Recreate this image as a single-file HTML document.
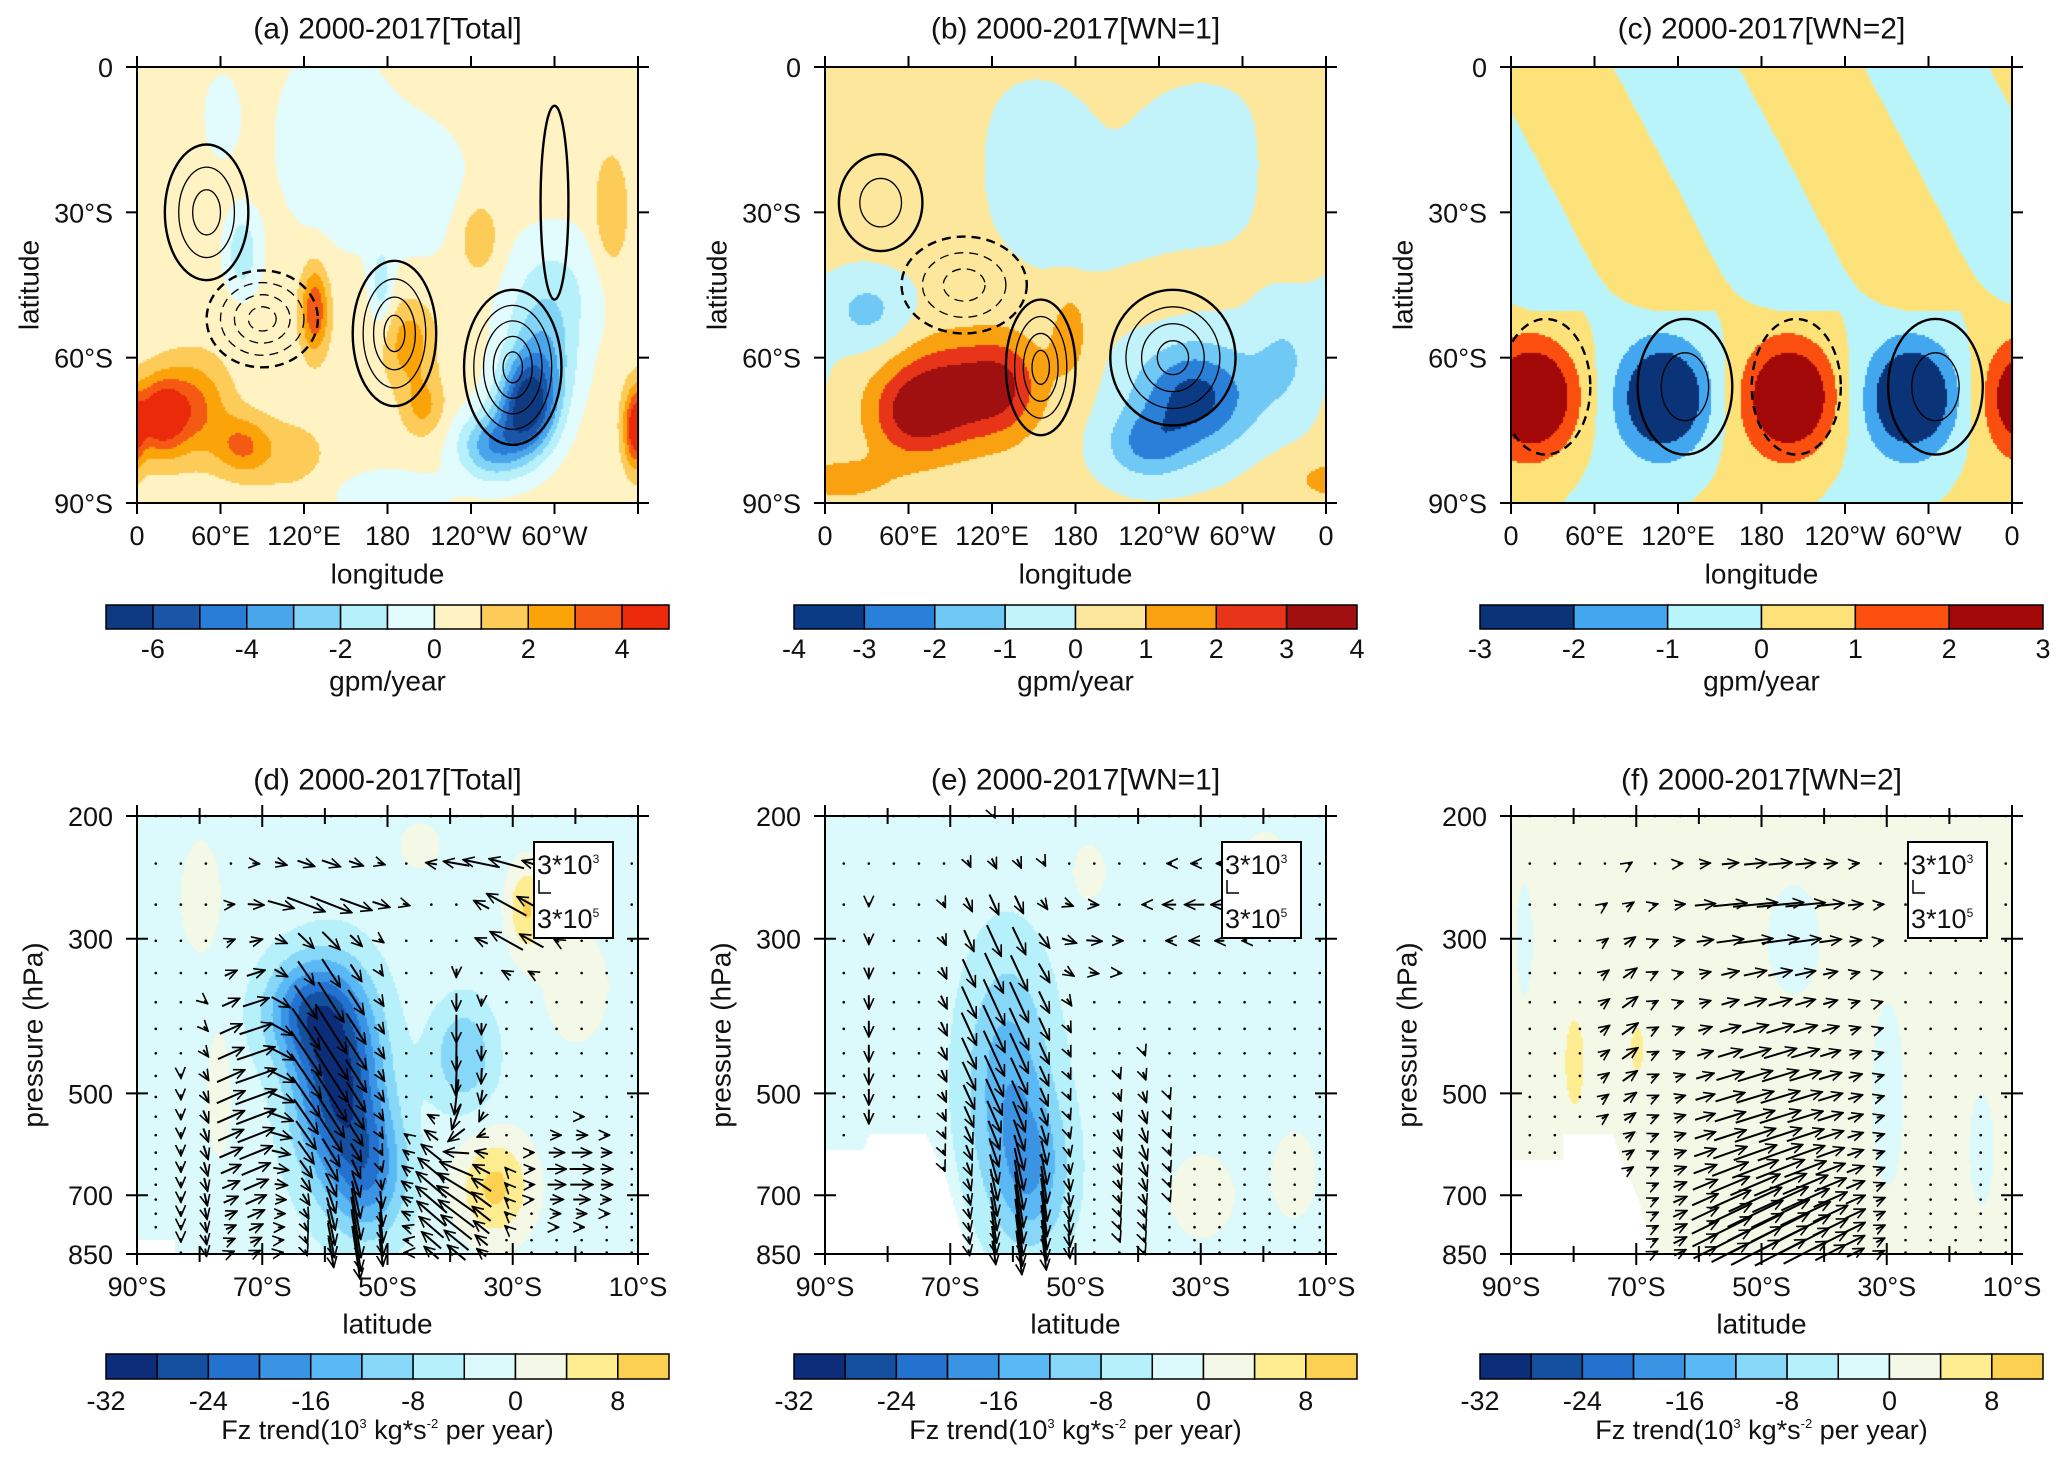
<!DOCTYPE html>
<html><head><meta charset="utf-8">
<style>
html,body{margin:0;padding:0;background:#fff;}
#wrap{position:relative;width:2067px;height:1464px;overflow:hidden;}
canvas,svg{position:absolute;left:0;top:0;}
text{font-family:"Liberation Sans",sans-serif;fill:#111;}
</style></head>
<body>
<div id="wrap">
<canvas id="cv" width="2067" height="1464"></canvas>
<svg id="sv" width="2067" height="1464" xmlns="http://www.w3.org/2000/svg"></svg>
</div>
<script>
// ---------- data ----------
const aBlobLon=[140,200,75,60,175,127,195,205,15,40,75,280,255,290,300,357,340,245,180,110];
const aBlobLat=[-15,-25,-38,-10,-45,-50,-57,-70,-72,-70,-78,-70,-78,-60,-45,-75,-30,-35,-88,-80];
const aBlobAmp=[-1.2,-1.0,-2.2,-0.8,-1.8,3.6,2.2,1.8,4.2,2.8,2.5,-6.2,-4,-3,-1.5,3.5,1.6,1.5,-1.2,1.0];
const aBlobWx=[40,40,12,15,8,10,18,15,18,25,20,20,25,25,35,8,12,15,40,30];
const aBlobWy=[20,15,8,10,8,9,9,6,8,10,6,9,7,12,12,8,12,8,5,8];
const aBase=0.4;

const bBlobLon=[50,150,200,270,340,225,95,60,265,230,30,330,175,10,130];
const bBlobLat=[-20,-20,-35,-20,-20,-45,-67,-72,-68,-78,-50,-60,-55,-85,-65];
const bBlobAmp=[0.8,-0.8,-0.8,-0.7,0.6,0.6,3.3,2.2,-3.6,-2,-1.5,-1.2,1.2,1.2,1.5];
const bBlobWx=[50,40,40,50,25,40,45,30,42,30,30,25,15,40,25];
const bBlobWy=[15,15,10,15,15,6,11,9,11,7,8,12,10,5,10];
const bBase=0.2;

const cBlobLon=[15,200,110,288,15,200,110,288];
const cBlobLat=[-68,-68,-68,-68,-68,-68,-68,-68];
const cBlobAmp=[3.3,3.3,-3.3,-3.3,0.9,0.9,-0.9,-0.9];
const cBlobWx=[30,30,30,30,45,45,45,45];
const cBlobWy=[10.5,10.5,10.5,10.5,18,18,18,18];
const cWaveAmp=0.6, cWaveK=2, cWaveTilt=1.85, cWaveCenter=28;

const dBlobLat=[-58,-63,-53,-38,-33,-28,-77,-80,-20,-45];
const dBlobP=[480,380,650,440,680,270,500,260,350,220];
const dBlobAmp=[-26,-16,-14,-10,11,10,5,3,3,3];
const dBlobWl=[7,7,6,5,6,3,2,5,8,5];
const dBlobWt=[0.22,0.12,0.15,0.12,0.12,0.1,0.15,0.2,0.2,0.08];
const eBlobLat=[-61,-57,-30,-15,-48,-20];
const eBlobP=[470,650,700,650,240,220];
const eBlobAmp=[-12,-11,3,3,3,3];
const eBlobWl=[7,6,8,5,4,4];
const eBlobWt=[0.28,0.18,0.15,0.15,0.1,0.05];
const fBlobLat=[-80,-70,-45,-30,-15,-88];
const fBlobP=[450,430,300,500,600,300];
const fBlobAmp=[5,5,-4,-4,-3,-3];
const fBlobWl=[1.5,1,5,3,3,2];
const fBlobWt=[0.1,0.05,0.15,0.25,0.2,0.2];
const dBase=-2, eBase=-2, fBase=2;

const dVecLat=[-60,-55,-72,-60,-30,-35,-40,-38,-20,-80];
const dVecP=[450,800,500,260,280,230,700,480,650,600];
const dVecU=[35,8,40,40,-45,-35,-40,0,25,0];
const dVecV=[55,60,-20,10,-25,-6,-35,45,0,18];
const dVecWl=[7,5,5,10,5,8,6,3,6,3];
const dVecWt=[0.25,0.1,0.3,0.08,0.1,0.05,0.15,0.2,0.1,0.3];
const eVecLat=[-62,-58,-82,-48,-30,-40];
const eVecP=[400,760,450,300,270,600];
const eVecU=[22,6,0,16,-20,6];
const eVecV=[48,55,22,0,0,16];
const eVecWl=[8,6,2,6,8,5];
const eVecWt=[0.3,0.15,0.3,0.1,0.1,0.2];
const fVecLat=[-48,-48,-48,-72];
const fVecP=[550,800,270,400];
const fVecU=[40,34,42,16];
const fVecV=[-12,-22,-3,-12];
const fVecWl=[13,12,12,4];
const fVecWt=[0.35,0.15,0.12,0.3];

const dMaskLat=[-90,-84,-84,-90]; const dMaskP=[810,810,850,850];
const eMaskLat=[-90,-84,-83,-74,-71,-67,-90]; const eMaskP=[600,600,570,570,650,850,850];
const fMaskLat=[-90,-82,-82,-74,-70,-67,-90]; const fMaskP=[620,620,570,570,700,850,850];

const colA=['#0d3a80','#1a55a8','#2a7dd6','#4aa6ea','#82d4f7','#b5f0fb','#e2fbfc','#fff3c4','#fdcc58','#fba40a','#f55a14','#ea2a0a'];
const levA=[-7,-6,-5,-4,-3,-2,-1,0,1,2,3,4,5];
const colB=['#0b3b84','#2a80d8','#70c8f5','#c2f3fa','#fde79c','#f9a111','#e8351a','#a01010'];
const levB=[-4,-3,-2,-1,0,1,2,3,4];
const colC=['#0b3378','#43a7f0','#baf4fb','#fde27a','#fa4f0e','#a30808'];
const levC=[-3,-2,-1,0,1,2,3];
const colD=['#0c2e7a','#15509f','#2372cf','#3a94e3','#5ab8f5','#87d8f8','#b6f1fb','#dcf9fb','#f4f8e6','#fdec90','#fcd050'];
const levD=[-32,-28,-24,-20,-16,-12,-8,-4,0,4,8,12];

const tickA=[-6,-4,-2,0,2,4];
const tickB=[-4,-3,-2,-1,0,1,2,3,4];
const tickC=[-3,-2,-1,0,1,2,3];
const tickD=[-32,-24,-16,-8,0,8];
const lonTicksA=['0','60°E','120°E','180','120°W','60°W',''];
const lonTicksBC=['0','60°E','120°E','180','120°W','60°W','0'];
const latTicks=['0','30°S','60°S','90°S'];
const pTicks=[200,300,500,700,850];
const latTicksBottom=['90°S','70°S','50°S','30°S','10°S'];

const aConLon=[50,185,270,90,300];
const aConLat=[-30,-55,-62,-52,-28];
const aConRx=[30,30,35,40,10];
const aConRy=[14,15,16,10,20];
const aConN=[3,4,5,4,1];
const aConDash=[0,0,0,1,0];
const bConLon=[250,155,40,100];
const bConLat=[-60,-62,-28,-45];
const bConRx=[45,25,30,45];
const bConRy=[14,14,10,10];
const bConN=[4,4,2,3];
const bConDash=[0,0,0,1];
const cConLon=[125,305,25,205];
const cConLat=[-66,-66,-66,-66];
const cConRx=[34,34,32,32];
const cConRy=[14,14,14,14];
const cConN=[2,2,1,1];
const cConDash=[0,0,1,1];

// ---------- layout ----------
const colX=[137,825,1511];
const PW=501, TOP0=67, TH=436, TOP1=816, BH=438;
const cbX=[106,794,1480], CBW=563;
const NS='http://www.w3.org/2000/svg';
const sv=document.getElementById('sv');
const cv=document.getElementById('cv'), ctx=cv.getContext('2d');

function el(tag,attrs,parent){const e=document.createElementNS(NS,tag);for(const k in attrs)e.setAttribute(k,attrs[k]);(parent||sv).appendChild(e);return e;}
function txt(x,y,s,size,anchor,parent){const t=el('text',{x:x,y:y,'font-size':size,'text-anchor':anchor||'middle','dominant-baseline':'central'},parent);t.textContent=s;return t;}
function colorFor(v,lev,col){if(v<lev[0])return col[0];for(let i=0;i<col.length;i++){if(v<lev[i+1])return col[i];}return col[col.length-1];}

function topField(lon,lat,L,La,A,Wx,Wy,base){let v=base;for(let i=0;i<L.length;i++){let dl=lon-L[i];dl=((dl+540)%360)-180;const d=(dl/Wx[i])**2+((lat-La[i])/Wy[i])**2;v+=A[i]*Math.exp(-d);}return v;}
function cWave(lon,lat){const sh=lat>-50?cWaveTilt*(-lat):cWaveTilt*50+0.5*(-lat-50);return cWaveAmp*Math.cos(cWaveK*(lon-sh-cWaveCenter)*Math.PI/180);}

const topPanels=[
 {L:aBlobLon,La:aBlobLat,A:aBlobAmp,Wx:aBlobWx,Wy:aBlobWy,base:aBase,col:colA,lev:levA,wave:false},
 {L:bBlobLon,La:bBlobLat,A:bBlobAmp,Wx:bBlobWx,Wy:bBlobWy,base:bBase,col:colB,lev:levB,wave:false},
 {L:cBlobLon,La:cBlobLat,A:cBlobAmp,Wx:cBlobWx,Wy:cBlobWy,base:0,col:colC,lev:levC,wave:true}];
const step=2;
topPanels.forEach((P,k)=>{
 const x0=colX[k];
 for(let py=0;py<TH;py+=step){const lat=-py/TH*90;
  for(let px=0;px<PW;px+=step){const lon=px/PW*360;
   let v=topField(lon,lat,P.L,P.La,P.A,P.Wx,P.Wy,P.base);
   if(P.wave){const f=lat>-50?1:0.35;v=v+cWave(lon,lat)*f;}
   ctx.fillStyle=colorFor(v,P.lev,P.col);ctx.fillRect(x0+px,TOP0+py,step,step);}}
});

const LP0=Math.log(200),LP1=Math.log(850);
function pT(p){return (Math.log(p)-LP0)/(LP1-LP0);}
function latX(k,lat){return colX[k]+(lat+90)/80*PW;}
function pY(p){return TOP1+pT(p)*BH;}
function botField(lat,p,B){let v=B.base;const t=pT(p);for(let i=0;i<B.La.length;i++){const d=((lat-B.La[i])/B.Wl[i])**2+((t-pT(B.P[i]))/B.Wt[i])**2;v+=B.A[i]*Math.exp(-d);}return v;}
function inPoly(x,y,xs,ys){let c=false;for(let i=0,j=xs.length-1;i<xs.length;j=i++){if(((ys[i]>y)!=(ys[j]>y))&&(x<(xs[j]-xs[i])*(y-ys[i])/(ys[j]-ys[i])+xs[i]))c=!c;}return c;}
const botPanels=[
 {La:dBlobLat,P:dBlobP,A:dBlobAmp,Wl:dBlobWl,Wt:dBlobWt,base:dBase,mL:dMaskLat,mP:dMaskP,vL:dVecLat,vP:dVecP,vU:dVecU,vV:dVecV,vWl:dVecWl,vWt:dVecWt},
 {La:eBlobLat,P:eBlobP,A:eBlobAmp,Wl:eBlobWl,Wt:eBlobWt,base:eBase,mL:eMaskLat,mP:eMaskP,vL:eVecLat,vP:eVecP,vU:eVecU,vV:eVecV,vWl:eVecWl,vWt:eVecWt},
 {La:fBlobLat,P:fBlobP,A:fBlobAmp,Wl:fBlobWl,Wt:fBlobWt,base:fBase,mL:fMaskLat,mP:fMaskP,vL:fVecLat,vP:fVecP,vU:fVecU,vV:fVecV,vWl:fVecWl,vWt:fVecWt}];
botPanels.forEach((B,k)=>{
 const x0=colX[k];
 for(let py=0;py<BH;py+=step){const p=Math.exp(LP0+py/BH*(LP1-LP0));
  for(let px=0;px<PW;px+=step){const lat=-90+px/PW*80;
   if(inPoly(lat,p,B.mL,B.mP)){ctx.fillStyle='#fff';}
   else{ctx.fillStyle=colorFor(botField(lat,p,B),levD,colD);}
   ctx.fillRect(x0+px,TOP1+py,step,step);}}
});

// ---------- SVG overlay ----------
const defs=el('defs',{});
const mk=el('marker',{id:'ah',markerWidth:12,markerHeight:12,refX:11,refY:6,orient:'auto',markerUnits:'userSpaceOnUse'},defs);
el('path',{d:'M0,1 L11,6 L0,11',fill:'none',stroke:'#000','stroke-width':1.6},mk);

const titles=['(a)  2000-2017[Total]','(b)  2000-2017[WN=1]','(c)  2000-2017[WN=2]','(d)  2000-2017[Total]','(e)  2000-2017[WN=1]','(f)  2000-2017[WN=2]'];
const cbSets=[[levA,colA,tickA],[levB,colB,tickB],[levC,colC,tickC]];
const conSets=[[aConLon,aConLat,aConRx,aConRy,aConN,aConDash],[bConLon,bConLat,bConRx,bConRy,bConN,bConDash],[cConLon,cConLat,cConRx,cConRy,cConN,cConDash]];
const FT=30, FK=27, FA=28;

for(let k=0;k<3;k++){
 const x0=colX[k];
 const g=el('g',{});
 
 
 const C=conSets[k];
 const cp=el('clipPath',{id:'clipT'+k},defs);el('rect',{x:x0,y:TOP0,width:PW,height:TH},cp);
 const cg=el('g',{'clip-path':'url(#clipT'+k+')'},g);
 for(let i=0;i<C[0].length;i++){
  for(let n=1;n<=C[4][i];n++){
   const f=n/C[4][i];
   const e=el('ellipse',{cx:x0+C[0][i]/360*PW,cy:TOP0+(-C[1][i])/90*TH,rx:C[2][i]*f/360*PW,ry:C[3][i]*f/90*TH,fill:'none',stroke:'#000','stroke-width':n==C[4][i]?2.4:1.3,'stroke-dasharray':C[5][i]?'9 6':'none'},cg);
   
   
  }
 }
 el('rect',{x:x0,y:TOP0,width:PW,height:TH,fill:'none',stroke:'#000','stroke-width':2},g);
 const t=txt(x0+PW/2,29,titles[k],FT,'middle',g);
 
 
 latTicks.forEach((s,i)=>{const y=TOP0+i*TH/3;el('line',{x1:x0-11,y1:y,x2:x0,y2:y,stroke:'#000','stroke-width':2},g);el('line',{x1:x0+PW,y1:y,x2:x0+PW+11,y2:y,stroke:'#000','stroke-width':2},g);
  const lt=txt(x0-24,y+1,s,FK,'end',g);});
 const lonT=k==0?lonTicksA:lonTicksBC;
 lonT.forEach((s,i)=>{const x=x0+i*PW/6;el('line',{x1:x,y1:TOP0-11,x2:x,y2:TOP0,stroke:'#000','stroke-width':2},g);el('line',{x1:x,y1:TOP0+TH,x2:x,y2:TOP0+TH+11,stroke:'#000','stroke-width':2},g);
  if(s){const xt=txt(x,TOP0+TH+33,s,FK,'middle',g);}});
 const xl=txt(x0+PW/2,TOP0+TH+71,'longitude',FA,'middle',g);
 const yl=txt(0,0,'latitude',FA,'middle',g);yl.setAttribute('transform','translate('+(x0-108)+','+(TOP0+TH/2)+') rotate(-90)');
 const [lev,col,tk]=cbSets[k];
 const cb=el('g',{},g);
 const bw=CBW/col.length;
 col.forEach((c,i)=>{el('rect',{x:cbX[k]+i*bw,y:605,width:bw,height:24,fill:c,stroke:'#000','stroke-width':1.5},cb);});
 tk.forEach(v=>{const i=lev.indexOf(v);const tl=txt(cbX[k]+i*bw,649,String(v),FK,'middle',cb);});
 const ul=txt(cbX[k]+CBW/2,681,'gpm/year',FA,'middle',cb);
}

for(let k=0;k<3;k++){
 const x0=colX[k];const B=botPanels[k];
 const g=el('g',{});
 
 
 const ag=el('g',{},g);
 for(let p=200;p<=850;p+=34){
  for(let lat=-87;lat<=-11;lat+=4){
   if(inPoly(lat,p,B.mL,B.mP))continue;
   let u=0,v=0;const t=pT(p);
   for(let i=0;i<B.vL.length;i++){const w=Math.exp(-(((lat-B.vL[i])/B.vWl[i])**2+((t-pT(B.vP[i]))/B.vWt[i])**2));u+=B.vU[i]*w;v+=B.vV[i]*w;}
   const x=latX(k,lat),y=pY(p);
   const m=Math.hypot(u,v);
   if(m<4){el('circle',{cx:x,cy:y,r:1.3,fill:'#000'},ag);continue;}
   const s=m>80?80/m:1;
   const a=el('line',{x1:x-u*s/2,y1:y-v*s/2,x2:x+u*s/2,y2:y+v*s/2,stroke:'#000','stroke-width':2,'marker-end':'url(#ah)'},ag);
   
   
  }
 }
 el('rect',{x:x0,y:TOP1,width:PW,height:BH,fill:'none',stroke:'#000','stroke-width':2},g);
 const t=txt(x0+PW/2,780,titles[3+k],FT,'middle',g);
 pTicks.forEach(p=>{const y=pY(p);el('line',{x1:x0-11,y1:y,x2:x0+11,y2:y,stroke:'#000','stroke-width':2},g);el('line',{x1:x0+PW-11,y1:y,x2:x0+PW+11,y2:y,stroke:'#000','stroke-width':2},g);
  const lt=txt(x0-24,y+1,String(p),FK,'end',g);});
 for(let i=0;i<=8;i++){const x=x0+i*PW/8;const L=i%2==0?11:8;el('line',{x1:x,y1:TOP1-L,x2:x,y2:TOP1+L,stroke:'#000','stroke-width':2},g);el('line',{x1:x,y1:TOP1+BH-L,x2:x,y2:TOP1+BH+L,stroke:'#000','stroke-width':2},g);}
 latTicksBottom.forEach((s,i)=>{const xt=txt(x0+i*PW/4,1287,s,FK,'middle',g);});
 const xl=txt(x0+PW/2,1324,'latitude',FA,'middle',g);
 const yl=txt(0,0,'pressure (hPa)',FA,'middle',g);yl.setAttribute('transform','translate('+(x0-104)+','+(TOP1+BH/2)+') rotate(-90)');
 const lg=el('g',{},g);
 el('rect',{x:x0+397,y:842,width:79,height:96,fill:'#fff',stroke:'#000','stroke-width':2},lg);
 const l1=el('text',{x:x0+400,y:874,'font-size':27},lg);l1.textContent='3*10';const s1=el('tspan',{dy:-11,'font-size':12},l1);s1.textContent='3';
 el('path',{d:'M'+(x0+402)+',880 L'+(x0+402)+',893 L'+(x0+414)+',893',fill:'none',stroke:'#000','stroke-width':1.5},lg);
 const l2=el('text',{x:x0+400,y:928,'font-size':27},lg);l2.textContent='3*10';const s2=el('tspan',{dy:-11,'font-size':12},l2);s2.textContent='5';
 const cb=el('g',{},g);
 const bw=CBW/colD.length;
 colD.forEach((c,i)=>{el('rect',{x:cbX[k]+i*bw,y:1354,width:bw,height:25,fill:c,stroke:'#000','stroke-width':1.5},cb);});
 tickD.forEach(v=>{const i=levD.indexOf(v);const tl=txt(cbX[k]+i*bw,1401,String(v),FK,'middle',cb);});
 const ct=el('text',{x:cbX[k]+CBW/2,y:1439,'font-size':27,'text-anchor':'middle'},cb);
 
 ct.appendChild(document.createTextNode('Fz trend(10'));
 const sp=el('tspan',{dy:-11,'font-size':13},ct);sp.textContent='3';
 const sp2=el('tspan',{dy:11},ct);sp2.textContent=' kg*s';
 const sp3=el('tspan',{dy:-11,'font-size':13},ct);sp3.textContent='-2';
 const sp4=el('tspan',{dy:11},ct);sp4.textContent=' per year)';
}
</script>
</body></html>
